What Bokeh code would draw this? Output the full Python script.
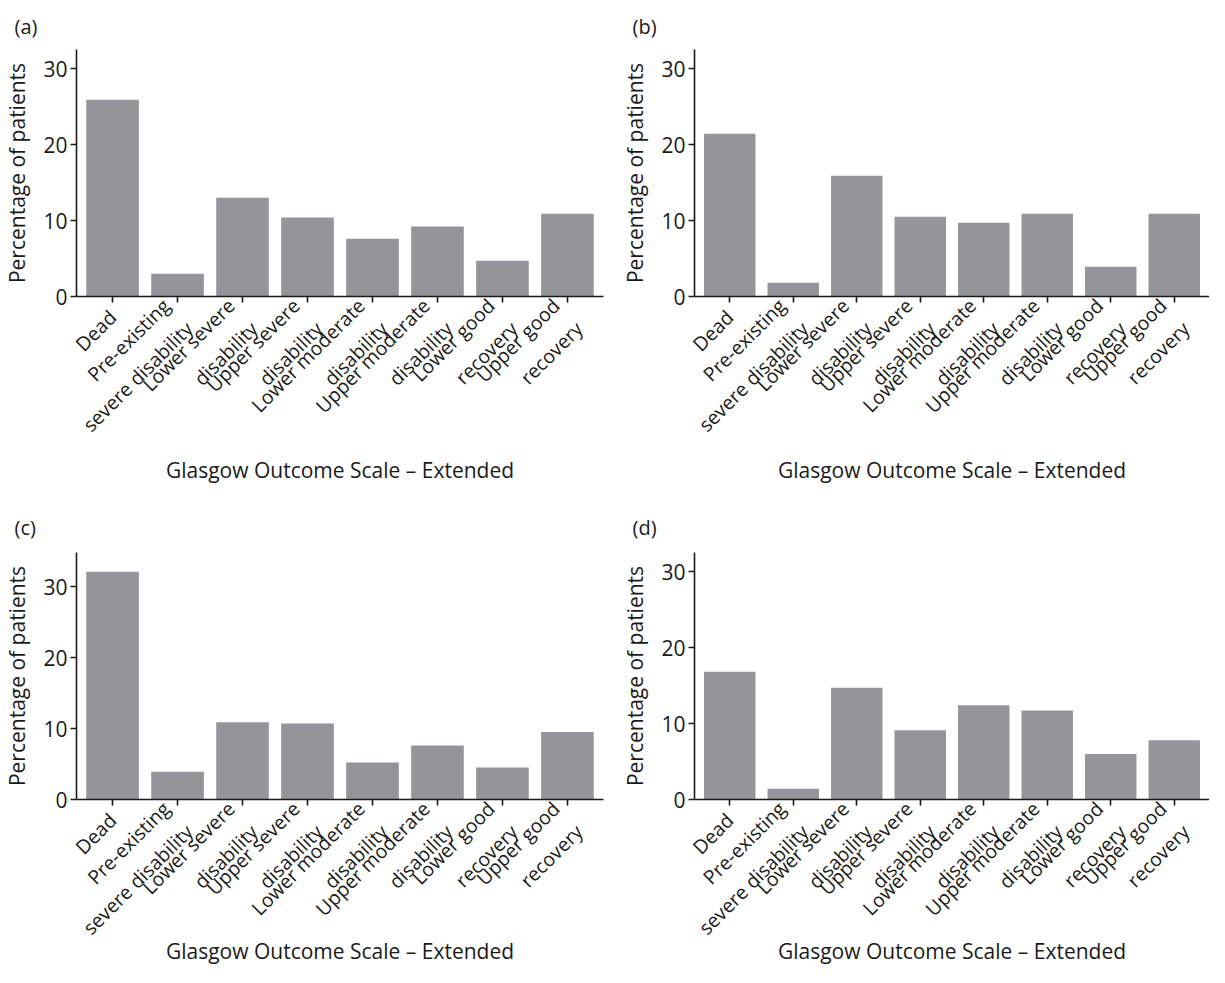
import math
from bokeh.plotting import figure
from bokeh.layouts import column, row
from bokeh.models import FactorRange, Range1d, FixedTicker
from bokeh.embed import file_html
from bokeh.resources import INLINE

categories = [
    "Dead",
    "Pre-existing\nsevere disability",
    "Lower severe\ndisability",
    "Upper severe\ndisability",
    "Lower moderate\ndisability",
    "Upper moderate\ndisability",
    "Lower good\nrecovery",
    "Upper good\nrecovery",
]
values_a = [25.9, 3.0, 13.0, 10.4, 7.6, 9.2, 4.7, 10.9]
values_b = [21.4, 1.8, 15.9, 10.5, 9.7, 10.9, 3.9, 10.9]
values_c = [32.1, 3.9, 10.9, 10.7, 5.2, 7.6, 4.5, 9.5]
values_d = [16.8, 1.4, 14.7, 9.1, 12.4, 11.7, 6.0, 7.8]
panel_labels = ["(a)", "(b)", "(c)", "(d)"]
y_max = [32.5, 32.5, 34.8, 32.5]
y_ticks = [0, 10, 20, 30]
x_title = "Glasgow Outcome Scale \u2013 Extended"
y_title = "Percentage of patients"

FONT = "Open Sans"
BAR = "#949599"
INK = "#1a1a1a"

# approximate Open Sans advance widths (1/1000 em), used only to centre the
# two lines of each rotated tick label on one another
_W = {" ": 260, "-": 322, "a": 556, "b": 613, "c": 480, "d": 613, "e": 561,
      "g": 547, "i": 258, "l": 258, "m": 930, "n": 613, "o": 602, "p": 613,
      "r": 408, "s": 479, "t": 353, "u": 613, "v": 500, "w": 775, "x": 520,
      "y": 500, "D": 715, "L": 504, "P": 604, "U": 721}
NBSP = "\u00a0"


def _w(s):
    return sum(_W.get(ch, 560) for ch in s)


def centred(label):
    lines = label.split("\n")
    if len(lines) == 1:
        return label
    widest = max(_w(t) for t in lines)
    out = []
    for t in lines:
        n = int(round((widest - _w(t)) / 2 / _W[" "]))
        out.append(t + NBSP * n)
    return "\n".join(out)


tick_text = {c: centred(c) for c in categories}


def make(label, vals, ymax, width, height, left, right, top, bottom,
         xstand, tstand):
    p = figure(
        x_range=FactorRange(factors=categories, range_padding=0.055,
                            range_padding_units="absolute"),
        y_range=Range1d(0, ymax),
        width=width, height=height,
        output_backend="svg", toolbar_location=None,
        min_border_left=left, min_border_right=right,
        min_border_top=top, min_border_bottom=bottom,
        title=label,
    )
    p.vbar(x=categories, top=vals, width=0.81, color=BAR, line_color=None)

    p.title.align = "left"
    p.title.offset = -(left - 7)
    p.title.text_font = FONT
    p.title.text_font_size = "20px"
    p.title.text_font_style = "normal"
    p.title.text_color = INK
    p.title.standoff = tstand

    p.outline_line_color = None
    p.xgrid.visible = False
    p.ygrid.visible = False
    p.background_fill_color = "white"
    p.border_fill_color = "white"

    for ax in (p.xaxis, p.yaxis):
        ax.axis_line_color = INK
        ax.axis_line_width = 1.6
        ax.major_tick_line_color = INK
        ax.major_tick_line_width = 1.6
        ax.major_tick_in = 0
        ax.major_tick_out = 6
        ax.minor_tick_line_color = None
        ax.major_label_text_font = FONT
        ax.major_label_text_color = INK
        ax.axis_label_text_font = FONT
        ax.axis_label_text_font_style = "normal"
        ax.axis_label_text_color = INK
        ax.axis_label_text_font_size = "21px"

    p.yaxis.ticker = FixedTicker(ticks=y_ticks)
    p.yaxis.major_label_text_font_size = "21px"
    p.yaxis.major_label_standoff = 3
    p.yaxis.axis_label = y_title
    p.yaxis.axis_label_standoff = 9

    p.xaxis.major_label_overrides = tick_text
    p.xaxis.major_label_orientation = math.pi / 4
    p.xaxis.major_label_text_font_size = "19.5px"
    p.xaxis.major_label_standoff = 11
    p.xaxis.axis_label = x_title
    p.xaxis.axis_label_standoff = xstand
    return p


pa = make(panel_labels[0], values_a, y_max[0], 618, 493, 69, 15, 49, 197, -10, 19)
pb = make(panel_labels[1], values_b, y_max[1], 591, 493, 69, 0, 49, 197, -10, 19)
pc = make(panel_labels[2], values_c, y_max[2], 618, 482, 69, 15, 59, 176, -32, 23)
pd = make(panel_labels[3], values_d, y_max[3], 591, 482, 69, 0, 59, 176, -32, 23)

layout = column(row(pa, pb), row(pc, pd))

open("out.html", "w").write(file_html(layout, INLINE))
